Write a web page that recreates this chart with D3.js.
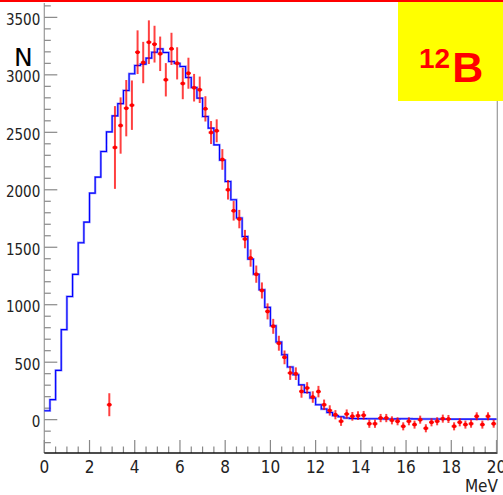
<!DOCTYPE html>
<html lang="en">
  <head>
    <meta charset="UTF-8" />
    <title>12B spectrum</title>
    <style>
      body {
        margin: 0;
        background: #fff;
      }
      svg {
        display: block;
      }
      .tick-label {
        font-family: "Liberation Sans Narrow", "DejaVu Sans Condensed", sans-serif;
        fill: #222;
      }
    </style>
  </head>
  <body>
    <script src="https://cdn.jsdelivr.net/npm/d3@7"></script>
    <script>
      // fit histogram, bins of 0.25 MeV starting at 0
      const binWidth = 0.25;
      const fitCounts = [
        78, 174, 429, 783, 1072, 1264, 1539, 1719, 1971, 2110,
        2333, 2504, 2643, 2750, 2864, 3009, 3081, 3093, 3145, 3197,
        3226, 3194, 3116, 3100, 3072, 2977, 2890, 2797, 2638, 2536,
        2391, 2258, 2072, 1913, 1754, 1594, 1397, 1265, 1130, 977,
        817, 676, 565, 458, 391, 303, 237, 189, 130, 93,
        63, 35, 25, 15, 10, 9, 9, 8, 8, 8,
        6, 6, 7, 8, 8, 7, 6, 6, 6, 6,
        5, 5, 5, 5, 5, 5, 5, 5, 5, 5
      ];

      // measured points
      const dataEnergy = [
        2.875, 3.125, 3.375, 3.625, 3.875, 4.125, 4.375, 4.625, 4.875, 5.125,
        5.375, 5.625, 5.875, 6.125, 6.375, 6.625, 6.875, 7.125, 7.375, 7.625,
        7.875, 8.125, 8.375, 8.625, 8.875, 9.125, 9.375, 9.625, 9.875, 10.125,
        10.375, 10.625, 10.875, 11.125, 11.375, 11.625, 11.875, 12.125, 12.375, 12.625,
        12.875, 13.125, 13.375, 13.625, 13.875, 14.125, 14.375, 14.625, 14.875, 15.125,
        15.375, 15.625, 15.875, 16.125, 16.375, 16.625, 16.875, 17.125, 17.375, 17.625,
        17.875, 18.125, 18.375, 18.625, 18.875, 19.125, 19.375, 19.625, 19.875
      ];
      const dataCounts = [
        130, 2368, 2559, 2710, 2736, 3197, 3107, 3284, 3267, 3183,
        2957, 3226, 3100, 2925, 3014, 2888, 2870, 2704, 2498, 2513,
        2264, 2000, 1817, 1745, 1571, 1406, 1266, 1124, 942, 812,
        665, 542, 406, 400, 246, 276, 197, 244, 130, 80,
        43, -14, 49, 29, 35, 38, -35, -35, 14, 14,
        -6, -14, -58, -14, -43, 0, -75, -23, -14, 9,
        6, -58, -23, -43, -35, 29, -43, 29, -35
      ];
      const dataErrors = [
        100, 360, 245, 245, 215, 190, 180, 190, 160, 150,
        145, 140, 140, 137, 135, 120, 115, 110, 100, 100,
        90, 85, 85, 80, 80, 75, 75, 70, 70, 65,
        65, 60, 60, 55, 55, 50, 50, 50, 45, 45,
        40, 40, 40, 38, 38, 38, 36, 36, 36, 36,
        35, 35, 35, 35, 35, 35, 35, 35, 35, 35,
        35, 35, 35, 35, 35, 35, 35, 35, 35
      ];

      const xTicks = [0, 2, 4, 6, 8, 10, 12, 14, 16, 18, 20];
      const yTicks = [0, 500, 1000, 1500, 2000, 2500, 3000, 3500];

      const width = 503;
      const height = 495;
      const plotLeft = 44.3;
      const plotRight = 496.5;
      const plotTop = 3;
      const plotBottom = 453;

      const x = d3.scaleLinear().domain([0, 20]).range([plotLeft, plotRight]);
      const y = d3.scaleLinear().domain([-290, 3625]).range([plotBottom, plotTop]);

      const svg = d3
        .select("body")
        .append("svg")
        .attr("width", width)
        .attr("height", height);

      // red strip on top
      svg.append("rect").attr("x", 0).attr("y", 0).attr("width", width).attr("height", 2).attr("fill", "#f00");

      // y axis (ticks inside, pointing right)
      const yMinor = d3.range(-200, 3700, 100);
      svg
        .append("line")
        .attr("x1", plotLeft).attr("x2", plotLeft)
        .attr("y1", plotTop).attr("y2", plotBottom)
        .attr("stroke", "#999")
        .attr("stroke-width", 1.2);
      svg
        .append("g")
        .selectAll("line")
        .data(yMinor)
        .enter()
        .append("line")
        .attr("x1", plotLeft)
        .attr("x2", d => (d % 500 === 0 ? plotLeft + 13 : plotLeft + 6.5))
        .attr("y1", d => y(d))
        .attr("y2", d => y(d))
        .attr("stroke", "#888")
        .attr("stroke-width", 1.2);
      svg
        .append("g")
        .selectAll("text")
        .data(yTicks)
        .enter()
        .append("text")
        .attr("class", "tick-label")
        .attr("x", plotLeft - 4)
        .attr("y", d => y(d) + 7.5)
        .attr("text-anchor", "end")
        .attr("font-size", 15)
        .text(d => d);

      // x axis (ticks inside, pointing up)
      const xMinor = d3.range(0, 20.01, 0.5);
      svg
        .append("g")
        .selectAll("line")
        .data(xMinor)
        .enter()
        .append("line")
        .attr("x1", d => x(d))
        .attr("x2", d => x(d))
        .attr("y1", plotBottom)
        .attr("y2", d => (d % 2 === 0 ? plotBottom - 13 : plotBottom - 6.5))
        .attr("stroke", "#888")
        .attr("stroke-width", 1.2);
      svg
        .append("line")
        .attr("x1", plotLeft).attr("x2", plotRight + 1)
        .attr("y1", plotBottom).attr("y2", plotBottom)
        .attr("stroke", "#111")
        .attr("stroke-width", 1.5);
      svg
        .append("g")
        .selectAll("text")
        .data(xTicks)
        .enter()
        .append("text")
        .attr("class", "tick-label")
        .attr("x", d => x(d))
        .attr("y", 473)
        .attr("text-anchor", "middle")
        .attr("font-size", 17)
        .text(d => d);
      svg
        .append("text")
        .attr("class", "tick-label")
        .attr("x", 498)
        .attr("y", 491.5)
        .attr("text-anchor", "end")
        .attr("font-size", 17)
        .text("MeV");

      // right frame line
      svg
        .append("line")
        .attr("x1", 497.3).attr("x2", 497.3)
        .attr("y1", plotTop).attr("y2", plotBottom)
        .attr("stroke", "#999")
        .attr("stroke-width", 1.2);

      // axis title
      svg
        .append("text")
        .attr("x", 14)
        .attr("y", 66)
        .attr("font-family", "DejaVu Sans, sans-serif")
        .attr("font-size", 25)
        .attr("fill", "#000")
        .text("N");

      // fit histogram as a step line
      const steps = fitCounts.map((v, i) => [i * binWidth, v]);
      steps.push([fitCounts.length * binWidth, fitCounts[fitCounts.length - 1]]);
      const stepLine = d3
        .line()
        .x(d => x(d[0]))
        .y(d => y(d[1]))
        .curve(d3.curveStepAfter);
      svg
        .append("path")
        .datum(steps)
        .attr("d", stepLine)
        .attr("fill", "none")
        .attr("stroke", "#5a5aff")
        .attr("stroke-width", 2.4)
        .attr("stroke-opacity", 0.6);
      svg
        .append("path")
        .datum(steps)
        .attr("d", stepLine)
        .attr("fill", "none")
        .attr("stroke", "#0000ff")
        .attr("stroke-width", 1.1);

      // data points with error bars
      const points = dataEnergy.map((e, i) => ({ e: e, v: dataCounts[i], err: dataErrors[i] }));
      const pts = svg.append("g").attr("stroke", "#f00");
      pts
        .selectAll(".vbar")
        .data(points)
        .enter()
        .append("line")
        .attr("class", "vbar")
        .attr("x1", d => x(d.e))
        .attr("x2", d => x(d.e))
        .attr("y1", d => y(d.v + d.err))
        .attr("y2", d => y(d.v - d.err))
        .attr("stroke-width", 2)
        .attr("stroke-opacity", 0.75);
      pts
        .selectAll(".hbar")
        .data(points)
        .enter()
        .append("line")
        .attr("class", "hbar")
        .attr("x1", d => x(d.e - 0.11))
        .attr("x2", d => x(d.e + 0.11))
        .attr("y1", d => y(d.v))
        .attr("y2", d => y(d.v))
        .attr("stroke-width", 2)
        .attr("stroke-opacity", 0.8);
      pts
        .selectAll("circle")
        .data(points)
        .enter()
        .append("circle")
        .attr("cx", d => x(d.e))
        .attr("cy", d => y(d.v))
        .attr("r", 2)
        .attr("fill", "#f00")
        .attr("stroke", "none");

      // isotope label box
      svg
        .append("rect")
        .attr("x", 398)
        .attr("y", 2)
        .attr("width", width - 398)
        .attr("height", 99)
        .attr("fill", "#ffff00");
      const label = svg
        .append("text")
        .attr("x", 419)
        .attr("y", 82)
        .attr("fill", "#f00")
        .attr("font-family", "Liberation Sans, sans-serif")
        .attr("font-weight", "bold");
      label.append("tspan").attr("font-size", 28).attr("dy", -14).text("12");
      label.append("tspan").attr("font-size", 43).attr("dy", 14).attr("dx", 2).text("B");
    </script>
  </body>
</html>
